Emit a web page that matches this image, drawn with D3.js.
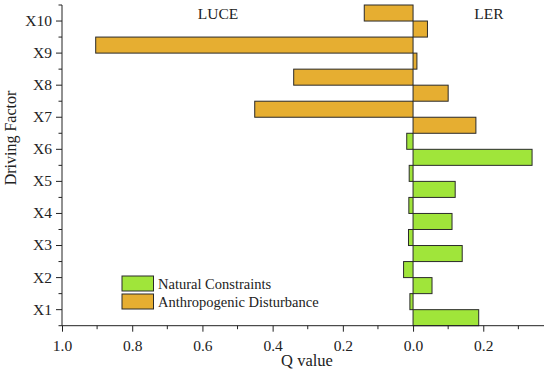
<!DOCTYPE html>
<html>
<head>
<meta charset="utf-8">
<script src="https://cdn.jsdelivr.net/npm/d3@7"></script>
<style>
  body { margin: 0; background: #fff; }
  svg text { font-family: "Liberation Serif", "Times New Roman", serif; fill: #222; }
</style>
</head>
<body>
<svg id="chart" width="550" height="374"></svg>
<script>
const factors = ["X1", "X2", "X3", "X4", "X5", "X6", "X7", "X8", "X9", "X10"];
const groups = ["Natural", "Natural", "Natural", "Natural", "Natural", "Natural",
                "Anthropogenic", "Anthropogenic", "Anthropogenic", "Anthropogenic"];
const luceValues = [0.009, 0.027, 0.013, 0.012, 0.011, 0.018, 0.451, 0.340, 0.904, 0.139];
const lerValues = [0.187, 0.054, 0.140, 0.111, 0.120, 0.339, 0.179, 0.100, 0.011, 0.041];
const xTicks = [-1.0, -0.8, -0.6, -0.4, -0.2, 0.0, 0.2];
const legendItems = [
  { key: "Natural", label: "Natural Constraints" },
  { key: "Anthropogenic", label: "Anthropogenic Disturbance" }
];

const colors = { Natural: "#a0e53a", Anthropogenic: "#e6ae31" };

const svg = d3.select("#chart");
const plotL = 62, plotR = 544, plotT = 5, plotB = 325.7;

const x = d3.scaleLinear().domain([-1.0, 0.373]).range([plotL, plotR]);
const y = d3.scaleBand().domain(factors).range([plotB, plotT]).padding(0);
const half = y.bandwidth() / 2;

// bars: LUCE (upper half of band, to the left), LER (lower half, to the right)
const rows = factors.map((f, i) => ({ f, g: groups[i], luce: luceValues[i], ler: lerValues[i] }));

svg.append("g").selectAll("rect")
  .data(rows)
  .join("rect")
    .attr("x", d => x(-d.luce))
    .attr("y", d => y(d.f))
    .attr("width", d => x(0) - x(-d.luce))
    .attr("height", half)
    .attr("fill", d => colors[d.g])
    .attr("stroke", "#2a2a2a")
    .attr("stroke-width", 1);

svg.append("g").selectAll("rect")
  .data(rows)
  .join("rect")
    .attr("x", x(0))
    .attr("y", d => y(d.f) + half)
    .attr("width", d => x(d.ler) - x(0))
    .attr("height", half)
    .attr("fill", d => colors[d.g])
    .attr("stroke", "#2a2a2a")
    .attr("stroke-width", 1);

// x axis
const xAxis = svg.append("g").attr("transform", `translate(0,${plotB})`);
xAxis.call(d3.axisBottom(x).tickValues(xTicks).tickSize(6)
    .tickFormat(d => d3.format(".1f")(Math.abs(d))))
  .call(g => g.select(".domain").remove())
  .call(g => g.selectAll("text").attr("font-size", 15.5).attr("dy", "1.05em")
      .style("font-family", "Liberation Serif").attr("fill", "#222"))
  .call(g => g.selectAll("line").attr("stroke", "#222"));
xAxis.append("line").attr("x1", plotL).attr("x2", plotR).attr("stroke", "#222");
const minorX = [-0.9, -0.7, -0.5, -0.3, -0.1, 0.1, 0.3];
xAxis.selectAll("line.minor").data(minorX).join("line")
  .attr("class", "minor")
  .attr("x1", d => x(d)).attr("x2", d => x(d))
  .attr("y1", 0).attr("y2", 3.5).attr("stroke", "#222");

// y axis
const yAxis = svg.append("g").attr("transform", `translate(${plotL},0)`);
yAxis.call(d3.axisLeft(y).tickSize(6).tickPadding(4))
  .call(g => g.select(".domain").remove())
  .call(g => g.selectAll("text").attr("font-size", 15.5)
      .style("font-family", "Liberation Serif").attr("fill", "#222"))
  .call(g => g.selectAll("line").attr("stroke", "#222"));
yAxis.append("line").attr("y1", plotT).attr("y2", plotB).attr("stroke", "#222");
const edges = factors.map(f => y(f)).concat([plotB]);
yAxis.selectAll("line.minor").data(edges).join("line")
  .attr("class", "minor")
  .attr("x1", -3.5).attr("x2", 0)
  .attr("y1", d => d).attr("y2", d => d).attr("stroke", "#222");

// axis titles
svg.append("text")
  .attr("x", 307).attr("y", 366)
  .attr("text-anchor", "middle").attr("font-size", 16.5)
  .text("Q value");
svg.append("text")
  .attr("transform", "translate(16,138) rotate(-90)")
  .attr("text-anchor", "middle").attr("font-size", 16)
  .text("Driving Factor");

// side labels
svg.append("text").attr("x", 218).attr("y", 18.5)
  .attr("text-anchor", "middle").attr("font-size", 15.5).text("LUCE");
svg.append("text").attr("x", 489).attr("y", 19)
  .attr("text-anchor", "middle").attr("font-size", 15.5).text("LER");

// legend
const legend = svg.append("g").attr("transform", "translate(122,276)");
legendItems.forEach((item, i) => {
  const g = legend.append("g").attr("transform", `translate(0,${i * 18})`);
  g.append("rect").attr("width", 31.5).attr("height", 15)
    .attr("fill", colors[item.key]).attr("stroke", "#2a2a2a").attr("stroke-width", 1);
  g.append("text").attr("x", 36).attr("y", 12.5).attr("font-size", 14.5).text(item.label);
});
</script>
</body>
</html>
